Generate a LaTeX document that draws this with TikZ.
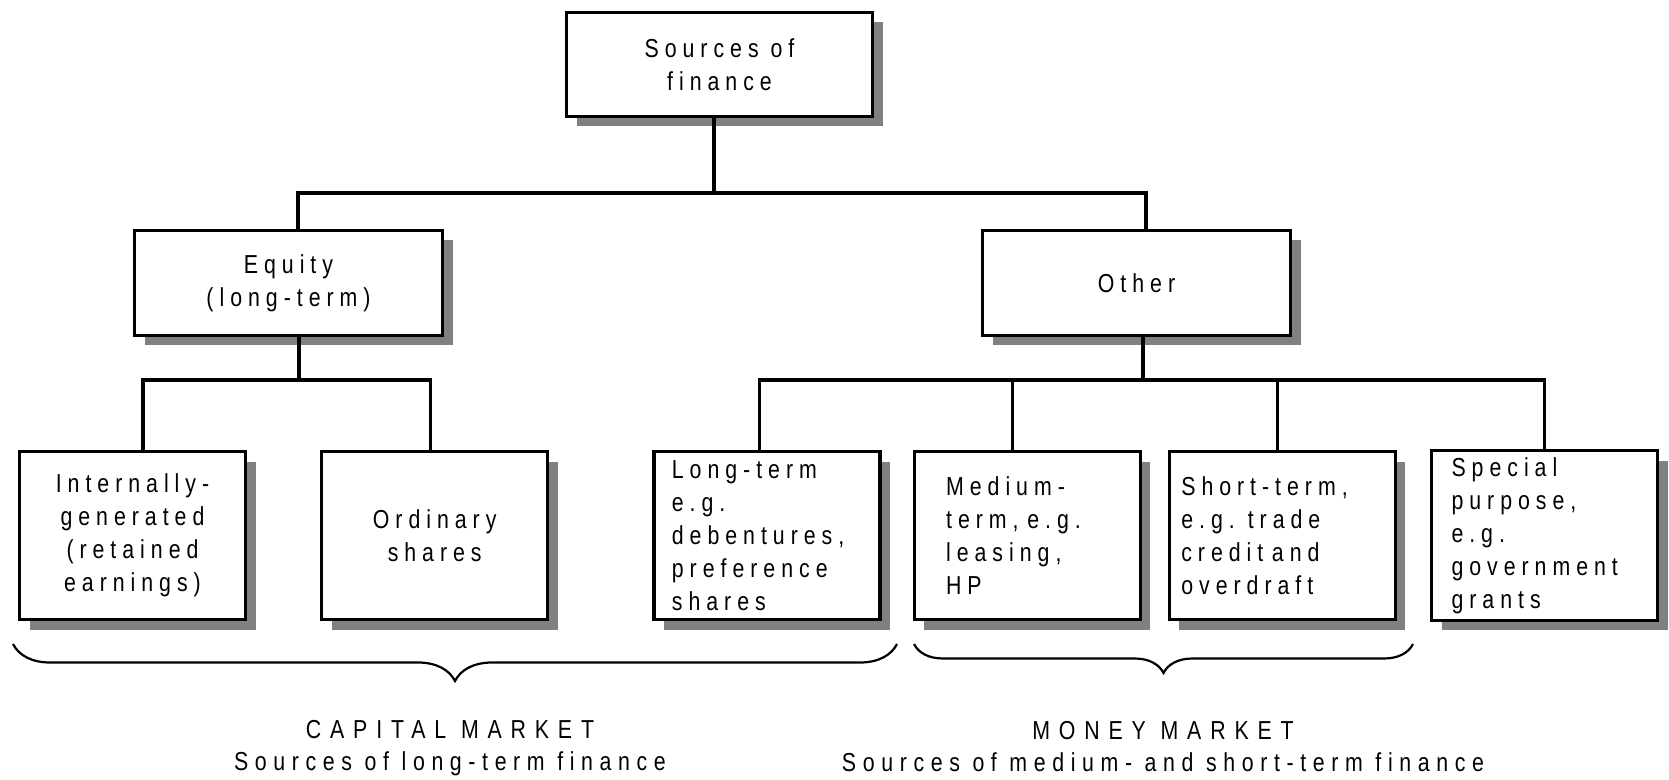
\documentclass[tikz,border=0pt]{standalone}
\usepackage{fontspec}
\setmainfont{Liberation Sans}[FakeStretch=0.82,LetterSpace=23]
\newfontfamily\marketfont{Liberation Sans}[FakeStretch=0.82,LetterSpace=25.5]
\newfontfamily\widefont{Liberation Sans}[FakeStretch=0.82,LetterSpace=34]
\usetikzlibrary{positioning,shadows,decorations.pathreplacing,calc}
\tikzset{
    box/.style={
        rectangle,
        draw=black,
        line width=1.6pt,
        fill=white,
        drop shadow={shadow xshift=5pt,shadow yshift=-5pt,fill=black!50,opacity=1},
        align=center,
        font=\fontsize{13pt}{16.5pt}\selectfont,
    },
    topbox/.style={
        box,
        minimum width=153pt,
        minimum height=52pt,
    },
    midbox/.style={
        box,
        minimum width=154pt,
        minimum height=52.5pt,
    },
    lowbox/.style={
        box,
        minimum width=113pt,
        minimum height=84pt,
    },
    leftbox/.style={
        lowbox,
        align=left,
        inner xsep=#1,
    },
    link/.style={
        line width=1.6pt,
    },
    bracket/.style={
        decorate,
        decoration={brace,mirror,amplitude=#1},
        line width=1.1pt,
    },
    market/.style={
        align=center,
        font={\fontsize{13pt}{16pt}\marketfont},
    },
}

\begin{document}
\begin{tikzpicture}[x=0.5pt,y=-0.5pt]
    \useasboundingbox (0,0) rectangle (1669,780);
    \node [topbox] (top) at (719.5,64.5) {Sources of\\finance};
    \node [midbox] (equity) at (288.5,283) {Equity\\(long-term)};
    \node [midbox] (other) at (1136.5,283) {Other};
    \node [lowbox] (internal) at (132.5,535.5) {Internally-\\generated\\(retained\\earnings)};
    \node [lowbox] (ordinary) [right=36.5pt of internal] {Ordinary\\shares};
    \node [leftbox=9pt, text width=95pt] (longterm) [right=51.5pt of ordinary] {Long-term\\e.g.\\debentures,\\preference\\shares};
    \node [leftbox=16pt, text width=81pt] (medium) [right=15.5pt of longterm] {Medium-\\term, e.g.\\leasing,\\HP};
    \node [leftbox=6pt, text width=101pt] (short) [right=13pt of medium] {Short-term,\\e.g. trade\\credit and\\overdraft};
    \node [leftbox=10pt, text width=93pt] (special) [right=16.5pt of short] {Special\\purpose,\\e.g.\\government\\grants};

    \coordinate (upbus) at (0,193);
    \coordinate (lowbus) at (0,380);
    \draw [link] ([xshift=-2.75pt]top.south) -- ([xshift=-2.75pt]top.south |- upbus);
    \draw [link] ([xshift=4.75pt]equity.north) -- ([xshift=4.75pt]equity.north |- upbus)
        -- ([xshift=4.75pt]other.north |- upbus) -- ([xshift=4.75pt]other.north);
    \draw [link] ([xshift=5.25pt]equity.south) -- ([xshift=5.25pt]equity.south |- lowbus);
    \draw [link] ([xshift=5.25pt]internal.north) -- ([xshift=5.25pt]internal.north |- lowbus)
        -- ([xshift=-2.25pt]ordinary.north |- lowbus) -- ([xshift=-2.25pt]ordinary.north);
    \draw [link] ([xshift=3.25pt]other.south) -- ([xshift=3.25pt]other.south |- lowbus);
    \draw [link] ([xshift=-3.75pt]longterm.north) -- ([xshift=-3.75pt]longterm.north |- lowbus)
        -- (special.north |- lowbus) -- (special.north);
    \draw [link] ([xshift=-7.5pt]medium.north) -- ([xshift=-7.5pt]medium.north |- lowbus);
    \draw [link] ([xshift=-2.25pt]short.north) -- ([xshift=-2.25pt]short.north |- lowbus);

    \coordinate (capleft) at (13,644);
    \coordinate (capright) at (897,644);
    \coordinate (moneyleft) at (914,644);
    \coordinate (moneyright) at (1413,644);
    \draw [bracket=18.5pt] (capleft) -- (capright);
    \draw [bracket=14.5pt] (moneyleft) -- (moneyright);
    \node [market] (capital) at (450,748) {{\widefont CAPITAL MARKET}\\Sources of long-term finance};
    \node [market] (money) at (1163,747) {{\widefont MONEY MARKET}\\Sources of medium- and short-term finance};
\end{tikzpicture}
\end{document}
